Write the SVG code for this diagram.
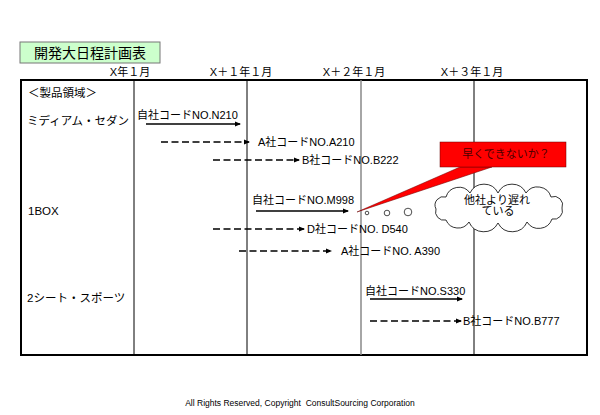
<svg xmlns="http://www.w3.org/2000/svg" width="600" height="415" viewBox="0 0 600 415">
<style>
text{font-family:"Liberation Sans","Noto Sans CJK JP",sans-serif;fill:#000}
.t{font-size:11px}
.h{font-size:11px;text-anchor:middle}
.row{font-size:11.5px}
.sol{stroke:#000;stroke-width:1.5;fill:none}
.dash{stroke:#000;stroke-width:1.5;fill:none;stroke-dasharray:7,3.5}
</style>
<defs>
<marker id="ah" markerWidth="6" markerHeight="6" refX="5" refY="3" orient="auto" markerUnits="userSpaceOnUse">
<path d="M0,0.5 L6,3 L0,5.5 Z" fill="#000"/>
</marker>
</defs>
<rect width="600" height="415" fill="#fff"/>
<g id="title">
<rect x="20" y="42" width="140" height="21" fill="#ccffcc" stroke="#777" stroke-width="1"/>
<text x="90" y="58" style="font-size:14px;text-anchor:middle">開発大日程計画表</text>
</g>
<g id="headers">
<text class="h" x="130" y="76">X年１月</text>
<text class="h" x="241" y="76">X＋１年１月</text>
<text class="h" x="354" y="76">X＋２年１月</text>
<text class="h" x="472" y="76">X＋３年１月</text>
</g>
<g id="table">
<rect x="21" y="80" width="566" height="275" fill="none" stroke="#000" stroke-width="2"/>
<line x1="134" y1="80" x2="134" y2="355" stroke="#000" stroke-width="1"/>
<line x1="247" y1="80" x2="247" y2="355" stroke="#000" stroke-width="1"/>
<line x1="361" y1="80" x2="361" y2="355" stroke="#888" stroke-width="1.5"/>
<line x1="474" y1="80" x2="474" y2="355" stroke="#000" stroke-width="1"/>
</g>
<g id="rows">
<text class="row" x="28" y="97">＜製品領域＞</text>
<text class="row" x="27" y="125">ミディアム・セダン</text>
<text class="row" x="28" y="215">1BOX</text>
<text class="row" x="27" y="302">2シート・スポーツ</text>
</g>
<g id="connectors">
<line class="sol" x1="146" y1="124" x2="240" y2="124" marker-end="url(#ah)"/>
<line class="dash" x1="161" y1="142" x2="249" y2="142" marker-end="url(#ah)"/>
<line class="dash" x1="213" y1="160" x2="299" y2="160" marker-end="url(#ah)"/>
<line class="sol" x1="256" y1="211" x2="348" y2="211" marker-end="url(#ah)"/>
<line class="dash" x1="213" y1="229" x2="304" y2="229" marker-end="url(#ah)"/>
<line class="dash" x1="239" y1="251" x2="331" y2="251" marker-end="url(#ah)"/>
<line class="sol" x1="370" y1="299" x2="462" y2="299" marker-end="url(#ah)"/>
<line class="dash" x1="370" y1="321" x2="461" y2="321" marker-end="url(#ah)"/>
</g>
<g id="labels">
<text class="t" x="137" y="119">自社コードNO.N210</text>
<text class="t" x="258" y="146">A社コードNO.A210</text>
<text class="t" x="302" y="164">B社コードNO.B222</text>
<text class="t" x="252" y="204">自社コードNO.M998</text>
<text class="t" x="307" y="233">D社コードNO. D540</text>
<text class="t" x="341" y="255">A社コードNO. A390</text>
<text class="t" x="365" y="295">自社コードNO.S330</text>
<text class="t" x="463" y="325">B社コードNO.B777</text>
</g>
<g id="callout">
<polygon points="357,212 460,167 492,167" fill="#ff0000" stroke="#600" stroke-width="0.5"/>
<rect x="440" y="142" width="126" height="25" fill="#ff0000" stroke="#600" stroke-width="0.5"/>
<text x="506" y="158" style="font-size:11px;text-anchor:middle;fill:#4a0000">早くできないか？</text>
</g>
<g id="thought">
<circle cx="367" cy="213" r="1.8" fill="#fff" stroke="#000" stroke-width="0.7"/>
<circle cx="387" cy="213" r="2.8" fill="#fff" stroke="#000" stroke-width="0.7"/>
<circle cx="408" cy="212" r="3.8" fill="#fff" stroke="#000" stroke-width="0.7"/>
<path d="M436,209 A8.5,8.5 0 0 1 446,197 A13.5,13.5 0 0 1 470,193 A15.5,15.5 0 0 1 498,193 A15.5,15.5 0 0 1 526,193 A14,14 0 0 1 551,197 A8.5,8.5 0 0 1 562,208 A8.5,8.5 0 0 1 552,219 A14,14 0 0 1 527,222 A16,16 0 0 1 498,223 A16,16 0 0 1 469,222 A13,13 0 0 1 446,220 A8.5,8.5 0 0 1 436,209 Z" fill="#fff" stroke="#000" stroke-width="0.8"/>
<text x="497" y="204" style="font-size:11px;text-anchor:middle">他社より遅れ</text>
<text x="498" y="215" style="font-size:11px;text-anchor:middle">ている</text>
</g>
<g id="footer">
<text x="300" y="406" style="font-size:8.5px;text-anchor:middle" xml:space="preserve">All Rights Reserved, Copyright  ConsultSourcing Corporation</text>
</g>
</svg>
